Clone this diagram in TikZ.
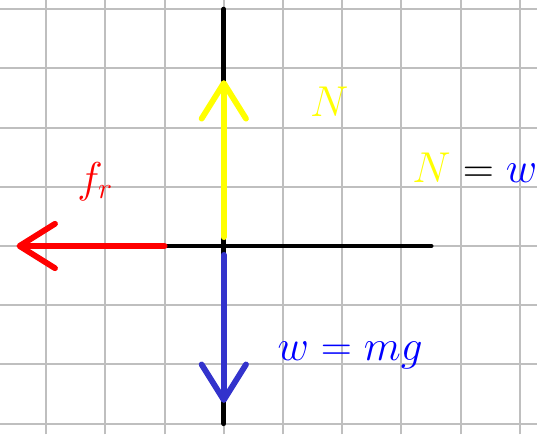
\documentclass[tikz,border=0pt]{standalone}
\usetikzlibrary{arrows.meta}
\definecolor{forcered}{RGB}{255,0,0}
\definecolor{forceyellow}{RGB}{255,255,0}
\definecolor{forceblue}{RGB}{51,51,204}
\definecolor{labelblue}{RGB}{0,0,255}

\begin{document}
\begin{tikzpicture}[
  axisline/.style={line width=2.4pt, line cap=round},
  force/.style={line width=2.8pt, line cap=round,
    -{Straight Barb[length=6mm, width=7.5mm, round]}},
  lbl/.style={font=\huge, inner sep=0pt, anchor=base west}
]
  \useasboundingbox (-3.78,-3.18) rectangle (5.29,4.155);

  % grid
  \draw[gray!50, line width=1pt] (-3.78,-3.18) grid (5.29,4.155);

  % axes
  \coordinate (O) at (0,0);
  \coordinate (top) at (0,4);
  \coordinate (bottom) at (0,-3);
  \coordinate (left) at (-1,0);
  \coordinate (right) at (3.5,0);
  \draw[axisline] (bottom) -- (top);
  \draw[axisline] (left) -- (right);

  % forces
  \coordinate (Nstart) at (0,0.15);
  \coordinate (Ntip) at (0,2.8);
  \coordinate (wstart) at (0,-0.15);
  \coordinate (wtip) at (0,-2.65);
  \coordinate (ftip) at (-3.5,0);
  \draw[force, forceyellow] (Nstart) -- (Ntip);
  \draw[force, forceblue] (wstart) -- (wtip);
  \draw[force, forcered] (left) -- (ftip);

  % labels
  \node[lbl, forcered] (fr) at (-2.48,0.91) {$f_r$};
  \node[lbl, forceyellow] (N) at (1.45,2.18) {$N$};
  \node[lbl] (Nw) at (3.18,1.08)
    {$\color{forceyellow}N\color{black} = \color{labelblue}w$};
  \node[lbl, labelblue] (wmg) at (0.9,-1.94) {$w = mg$};
\end{tikzpicture}
\end{document}
